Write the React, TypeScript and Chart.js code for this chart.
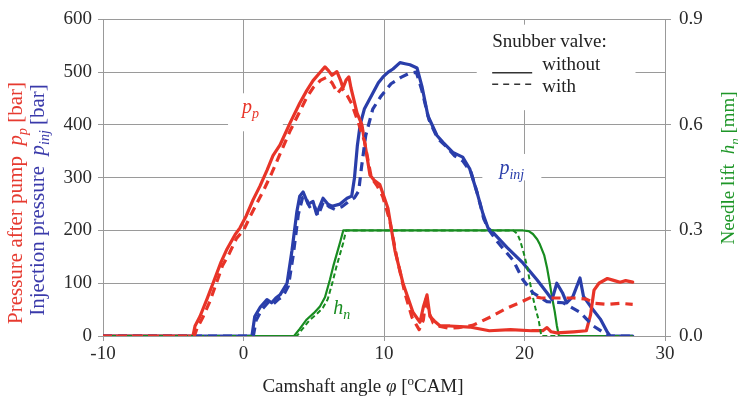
import React, { useEffect, useRef } from "react";
import { Chart, registerables } from "chart.js";
Chart.register(...registerables);

const FONT = '"Liberation Serif", "Times New Roman", serif';

// ---- data (camshaft angle in °CAM, pressure in bar, needle lift in mm) ----
const ppWithoutX = [-10, -3.6, -3.45, -3.1, -2.6, -2.17, -1.6, -1.17, -0.6, -0.25, 0.2, 0.68, 1.17, 1.67, 2.1, 2.6, 3.3, 4.0, 4.5, 4.95, 5.4, 5.8, 6.05, 6.3, 6.65, 6.9, 7.08, 7.3, 7.5, 7.65, 8.08, 8.43, 9.0, 9.3, 9.7, 10.28, 10.78, 11.35, 12.06, 12.56, 12.8, 13.06, 13.27, 13.6, 14.0, 14.7, 16.1, 17.5, 19.0, 20.5, 21.3, 21.6, 21.9, 22.3, 23.5, 24.4, 24.7, 24.95, 25.3, 25.9, 26.4, 26.8, 27.2, 27.7];
const ppWithoutY = [0, 0, 19, 37, 70, 100, 140, 165, 192, 205, 228, 258, 284, 314, 342, 362, 403, 441, 465, 484, 498, 510, 503, 494, 501, 485, 470, 485, 491, 470, 423, 400, 305, 295, 287, 242, 162, 100, 45, 26, 55, 78, 37, 28, 19, 19, 17, 10, 12, 10, 10, 16, 8, 6, 8, 10, 40, 87, 100, 109, 105, 102, 105, 102];

const ppWithX = [-10, -3.5, -3.3, -2.9, -2.4, -2.0, -1.5, -1.0, -0.5, 0, 0.5, 1.0, 1.5, 2.0, 2.6, 3.3, 4.0, 4.5, 5.0, 5.5, 5.9, 6.3, 6.7, 7.0, 7.4, 7.7, 8.1, 8.6, 9.1, 9.5, 9.9, 10.4, 10.9, 11.5, 12.0, 12.5, 12.8, 13.0, 13.2, 13.5, 14.0, 14.6, 15.3, 16.3, 17.5, 18.7, 19.8, 20.6, 21.2, 22.5, 23.5, 24.4, 25.0, 25.9, 26.8, 27.7];
const ppWithY = [0, 0, 15, 35, 65, 95, 133, 157, 185, 200, 228, 254, 280, 308, 345, 388, 425, 452, 472, 485, 490, 480, 460, 470, 455, 440, 410, 370, 300, 285, 265, 220, 150, 80, 35, 12, 30, 75, 45, 25, 18, 15, 16, 20, 35, 52, 65, 75, 72, 72, 72, 70, 62, 60, 62, 60];

const pinjWithoutX = [-10, 0.6, 0.8, 1.2, 1.67, 2.0, 2.3, 2.6, 3.1, 3.45, 3.8, 4.0, 4.24, 4.6, 4.95, 5.2, 5.66, 6.0, 6.3, 6.87, 7.37, 7.7, 7.9, 8.1, 8.3, 8.6, 9.2, 9.6, 9.93, 10.3, 10.64, 11.14, 11.5, 11.85, 12.35, 12.7, 13.13, 13.77, 14.2, 14.9, 15.6, 16.1, 16.6, 17.05, 17.4, 17.8, 18.75, 19.9, 20.9, 21.6, 21.96, 22.3, 22.7, 23.0, 23.45, 23.95, 24.2, 24.7, 25.4, 25.9, 26.1, 27.7];
const pinjWithoutY = [0, 0, 37, 55, 69, 63, 72, 78, 100, 162, 236, 265, 273, 250, 255, 231, 261, 250, 246, 250, 261, 265, 300, 360, 400, 430, 460, 480, 491, 500, 506, 518, 516, 514, 508, 473, 417, 380, 367, 348, 339, 317, 274, 231, 205, 195, 168, 138, 106, 82, 69, 100, 82, 63, 75, 110, 75, 56, 32, 7, 0, 0];

const pinjWithX = [-10, 0.7, 0.9, 1.3, 1.8, 2.1, 2.5, 2.8, 3.2, 3.55, 3.9, 4.2, 4.4, 4.7, 5.0, 5.3, 5.7, 6.1, 6.5, 7.0, 7.5, 7.9, 8.2, 8.4, 8.7, 9.2, 9.8, 10.5, 11.2, 11.8, 12.3, 12.7, 13.2, 13.8, 14.4, 15.0, 15.6, 16.2, 16.7, 17.1, 17.5, 18.0, 19.2, 19.9, 20.6, 21.6, 22.75, 23.95, 24.9, 25.6, 26.0, 27.7];
const pinjWithY = [0, 0, 30, 50, 65, 60, 70, 75, 95, 155, 230, 262, 265, 245, 250, 228, 255, 245, 240, 245, 255, 262, 275, 320, 380, 430, 455, 478, 490, 498, 500, 465, 410, 375, 360, 342, 332, 310, 265, 222, 200, 181, 143, 106, 82, 65, 63, 45, 19, 7, 0, 0];

const hnWithoutX = [-10, 3.6, 4.0, 4.5, 5.0, 5.44, 5.8, 6.15, 6.4, 6.65, 6.9, 7.1, 19.9, 20.3, 20.6, 20.9, 21.1, 21.4, 21.6, 21.8, 21.96, 22.15, 22.3, 22.45, 27.7];
const hnWithoutY = [0, 0, 0.02, 0.047, 0.065, 0.084, 0.11, 0.16, 0.2, 0.235, 0.27, 0.3, 0.3, 0.298, 0.29, 0.275, 0.26, 0.23, 0.195, 0.15, 0.11, 0.07, 0.03, 0, 0];

const hnWithX = [-10, 3.8, 4.2, 4.7, 5.2, 5.65, 6.0, 6.35, 6.6, 6.85, 7.1, 7.3, 19.2, 19.5, 19.7, 19.95, 20.2, 20.4, 20.6, 20.8, 21.0, 21.2, 27.7];
const hnWithY = [0, 0, 0.02, 0.045, 0.062, 0.08, 0.105, 0.155, 0.195, 0.23, 0.265, 0.3, 0.3, 0.29, 0.27, 0.235, 0.195, 0.15, 0.11, 0.075, 0.047, 0, 0];

const xTicks = [-10, 0, 10, 20, 30];
const yTicks = [0, 100, 200, 300, 400, 500, 600];
const y2Ticks = [0, 0.3, 0.6, 0.9];

const RED = "rgb(232,52,40)";
const BLUE = "rgb(42,62,170)";
const GREEN = "rgb(24,140,32)";
const GRID = "#9a9a9a";
const TXT = "#2a2a2a";

type Seg = { t: string; it?: boolean; sub?: boolean; sup?: boolean };

function drawRich(ctx: CanvasRenderingContext2D, segs: Seg[], x: number, y: number, size: number, color: string, rot: number, align: "center" | "left" = "center") {
  ctx.save();
  ctx.translate(x, y);
  ctx.rotate(rot);
  ctx.fillStyle = color;
  ctx.textBaseline = "alphabetic";
  ctx.textAlign = "left";
  const fontFor = (s: Seg) => `${s.it ? "italic " : ""}${s.sub || s.sup ? Math.round(size * 0.68) : size}px ${FONT}`;
  let total = 0;
  for (const s of segs) {
    ctx.font = fontFor(s);
    total += ctx.measureText(s.t).width;
  }
  let cx = align === "center" ? -total / 2 : 0;
  const base = size * 0.33;
  for (const s of segs) {
    ctx.font = fontFor(s);
    const dy = s.sub ? size * 0.25 : s.sup ? -size * 0.38 : 0;
    ctx.fillText(s.t, cx, base + dy);
    cx += ctx.measureText(s.t).width;
  }
  ctx.restore();
}

const pts = (xs: number[], ys: number[]) => xs.map((x, i) => ({ x, y: ys[i] }));

const overlay = {
  id: "overlay",
  beforeDatasetsDraw(chart: any) {
    const ctx = chart.ctx as CanvasRenderingContext2D;
    const xs = chart.scales.x;
    const ys = chart.scales.y;
    const box = (x0: number, x1: number, y0: number, y1: number) => {
      const px0 = xs.getPixelForValue(x0), px1 = xs.getPixelForValue(x1);
      const py0 = ys.getPixelForValue(y0), py1 = ys.getPixelForValue(y1);
      ctx.fillRect(px0, py1, px1 - px0, py0 - py1);
    };
    ctx.save();
    ctx.fillStyle = "#ffffff";
    box(16.6, 27.9, 428, 590); // legend
    box(-1.1, 2.8, 388, 460); // p_p label
    box(17.0, 21.2, 295, 345); // p_inj label
    ctx.restore();
  },
  afterDatasetsDraw(chart: any) {
    const ctx = chart.ctx as CanvasRenderingContext2D;
    const xs = chart.scales.x;
    const ys = chart.scales.y;
    // in-plot labels
    drawRich(ctx, [{ t: "p", it: true }, { t: "p", it: true, sub: true }], xs.getPixelForValue(0.5), ys.getPixelForValue(435), 20, RED, 0);
    drawRich(ctx, [{ t: "p", it: true }, { t: "inj", it: true, sub: true }], xs.getPixelForValue(19.1), ys.getPixelForValue(320), 20, BLUE, 0);
    drawRich(ctx, [{ t: "h", it: true }, { t: "n", it: true, sub: true }], xs.getPixelForValue(7.0), ys.getPixelForValue(55), 20, GREEN, 0);

    // legend
    const lx = xs.getPixelForValue(17.7);
    drawRich(ctx, [{ t: "Snubber valve:" }], lx, ys.getPixelForValue(559), 19, "#222", 0, "left");
    drawRich(ctx, [{ t: "without" }], lx + 50, ys.getPixelForValue(516), 19, "#222", 0, "left");
    drawRich(ctx, [{ t: "with" }], lx + 50, ys.getPixelForValue(475), 19, "#222", 0, "left");
    ctx.save();
    ctx.strokeStyle = "#333";
    ctx.lineWidth = 1.4;
    let yy = ys.getPixelForValue(499);
    ctx.beginPath();
    ctx.moveTo(lx, yy);
    ctx.lineTo(lx + 40, yy);
    ctx.stroke();
    yy = ys.getPixelForValue(477);
    ctx.setLineDash([6, 5]);
    ctx.beginPath();
    ctx.moveTo(lx, yy);
    ctx.lineTo(lx + 40, yy);
    ctx.stroke();
    ctx.restore();
  },
  afterDraw(chart: any) {
    const ctx = chart.ctx as CanvasRenderingContext2D;
    drawRich(ctx, [{ t: "Pressure after pump  " }, { t: "p", it: true }, { t: "p", it: true, sub: true }, { t: " [bar]" }], 15, 203, 21, "rgb(230,58,48)", -Math.PI / 2);
    drawRich(ctx, [{ t: "Injection pressure  " }, { t: "p", it: true }, { t: "inj", it: true, sub: true }, { t: " [bar]" }], 37, 200, 21, "rgb(58,58,170)", -Math.PI / 2);
    drawRich(ctx, [{ t: "Needle lift  " }, { t: "h", it: true }, { t: "n", it: true, sub: true }, { t: " [mm]" }], 728, 168, 19, "rgb(30,150,40)", -Math.PI / 2);
    drawRich(ctx, [{ t: "Camshaft angle " }, { t: "φ", it: true }, { t: " [" }, { t: "o", sup: true }, { t: "CAM]" }], 363, 386, 19, "#222", 0);
  },
};

export default function App() {
  const ref = useRef<HTMLCanvasElement | null>(null);
  useEffect(() => {
    if (!ref.current) return;
    const solid = (data: any, color: string, axis: string, w: number, order: number) => ({
      data, borderColor: color, borderWidth: w, pointRadius: 0, tension: 0, yAxisID: axis, order,
      borderJoinStyle: "round" as const, borderCapStyle: "round" as const, fill: false,
    });
    const dashed = (data: any, color: string, axis: string, w: number, dash: number[], order: number) => ({
      ...solid(data, color, axis, w, order), borderDash: dash, borderCapStyle: "butt" as const,
    });
    const chart = new Chart(ref.current, {
      type: "line",
      data: {
        datasets: [
          solid(pts(hnWithoutX, hnWithoutY), GREEN, "y2", 2.2, 6),
          solid(pts(pinjWithoutX, pinjWithoutY), BLUE, "y", 3.2, 5),
          solid(pts(ppWithoutX, ppWithoutY), RED, "y", 3.2, 4),
          dashed(pts(hnWithX, hnWithY), GREEN, "y2", 2.0, [5, 3], 3),
          dashed(pts(pinjWithX, pinjWithY), BLUE, "y", 3.2, [9, 6], 2),
          dashed(pts(ppWithX, ppWithY), RED, "y", 3.2, [9, 6], 1),
        ] as any,
      },
      options: {
        animation: false,
        responsive: false,
        events: [],
        layout: { padding: { top: 13, left: 0, right: 0, bottom: 0 } },
        plugins: { legend: { display: false }, tooltip: { enabled: false }, title: { display: false } },
        scales: {
          x: {
            type: "linear", min: -10, max: 30,
            afterBuildTicks: (s: any) => { s.ticks = xTicks.map((v) => ({ value: v })); },
            afterFit: (s: any) => { s.height = 66; },
            ticks: { font: { family: FONT, size: 19 }, color: TXT, padding: 2, maxRotation: 0 },
            grid: { color: GRID, lineWidth: 1, tickLength: 5 },
            border: { color: "#999", width: 1 },
          },
          y: {
            type: "linear", position: "left", min: 0, max: 600,
            afterBuildTicks: (s: any) => { s.ticks = yTicks.map((v) => ({ value: v })); },
            afterFit: (s: any) => { s.width = 103; },
            ticks: { font: { family: FONT, size: 19 }, color: TXT, padding: 6 },
            grid: { color: GRID, lineWidth: 1, tickLength: 5 },
            border: { color: "#999", width: 1 },
          },
          y2: {
            type: "linear", position: "right", min: 0, max: 0.9,
            afterBuildTicks: (s: any) => { s.ticks = y2Ticks.map((v) => ({ value: v })); },
            afterFit: (s: any) => { s.width = 73; },
            ticks: { font: { family: FONT, size: 19 }, color: TXT, padding: 8, callback: (v: any) => Number(v).toFixed(1) },
            grid: { drawOnChartArea: false, color: GRID, tickLength: 6 },
            border: { color: "#999", width: 1 },
          },
        },
      },
      plugins: [overlay],
    } as any);
    return () => chart.destroy();
  }, []);
  return (
    <div style={{ position: "absolute", left: 0, top: 0, width: 738, height: 402, background: "#fff" }}>
      <canvas ref={ref} width={738} height={402} />
    </div>
  );
}
